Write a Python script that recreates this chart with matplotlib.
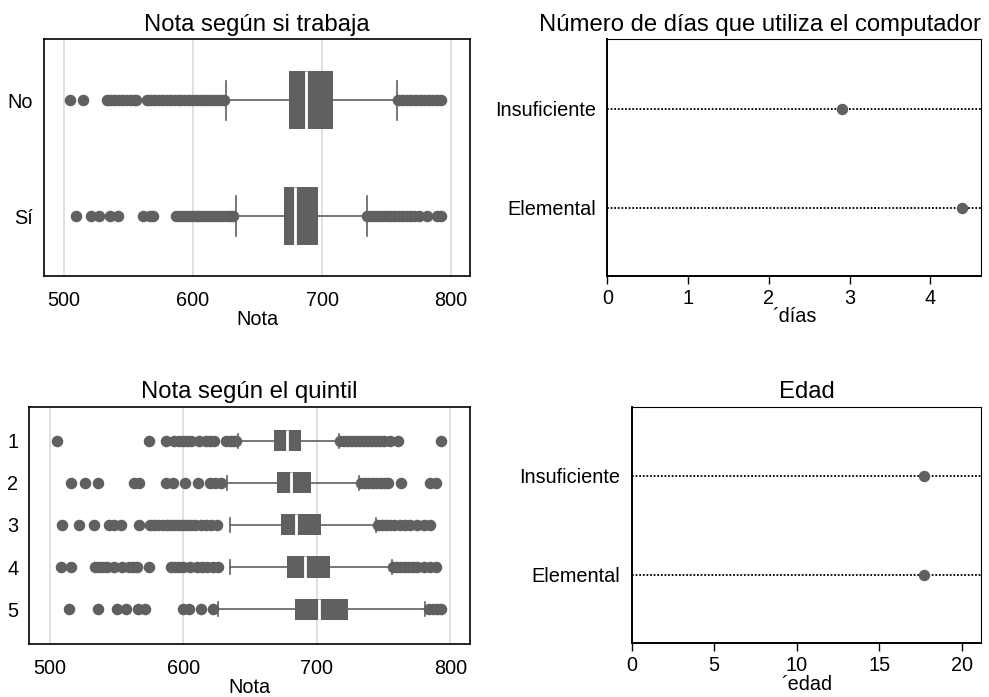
import matplotlib
matplotlib.use("Agg")
import matplotlib.pyplot as plt

plt.rcParams['font.family'] = ['Liberation Sans', 'DejaVu Sans']

GRAY = '#606060'
TICK_FS = 14.3
LABEL_FS = 14.3
TITLE_FS = 17.2

# ---------- Panel 1: Nota según si trabaja ----------
work_labels = ["No", "Sí"]
work_q1 = [674.2, 670.3]
work_med = [687.8, 679.1]
work_q3 = [708.3, 696.7]
work_whislo = [625.3, 633.1]
work_whishi = [757.9, 734.9]
work_fliers_no = [505, 515, 533, 536, 539, 542, 545, 548, 551, 554, 556,
                  564, 567, 570, 573, 576, 579, 582, 585, 588, 591, 594, 597,
                  600, 603, 606, 609, 612, 615, 618, 621, 624,
                  759, 762, 765, 768, 771, 774, 777, 780, 783, 786, 789, 792]
work_fliers_si = [509, 521, 527, 536, 542, 561, 567, 569,
                  587, 590, 593, 596, 599, 602, 605, 608, 611, 614, 617, 620,
                  623, 626, 629, 631,
                  735, 738, 741, 744, 747, 750, 753, 756, 759, 762, 765, 768,
                  771, 775, 781, 789, 792]

# ---------- Panel 2: Número de días que utiliza el computador ----------
level_labels = ["Insuficiente", "Elemental"]
dias_values = [2.90, 4.39]

# ---------- Panel 3: Nota según el quintil ----------
quint_labels = ["1", "2", "3", "4", "5"]
quint_q1 = [667.9, 670.4, 673.2, 677.7, 683.9]
quint_med = [677.4, 680.6, 684.4, 690.9, 701.3]
quint_q3 = [688.1, 695.6, 703.1, 709.8, 723.2]
quint_whislo = [641.0, 632.8, 635.0, 635.0, 625.6]
quint_whishi = [716.8, 731.5, 744.2, 755.9, 780.8]
quint_fliers_1 = [505, 574, 587, 593, 597, 600, 603, 606, 612, 617, 620, 623,
                  632, 635, 637, 639,
                  717, 720, 723, 726, 729, 732, 735, 738, 741, 744, 747, 750,
                  755, 761, 793]
quint_fliers_2 = [516, 526, 536, 563, 567, 587, 592, 601, 611, 620, 624, 628,
                  733, 736, 739, 742, 745, 748, 751, 753, 763, 785, 789]
quint_fliers_3 = [509, 522, 533, 544, 548, 553, 567, 575, 578, 581, 585, 588,
                  591, 594, 597, 600, 603, 606, 609, 613, 617, 621, 625,
                  746, 749, 752, 755, 758, 762, 766, 770, 775, 780, 785]
quint_fliers_4 = [508, 516, 534, 537, 540, 543, 548, 554, 559, 562, 565, 574,
                  591, 594, 597, 600, 605, 610, 614, 618, 622, 626,
                  757, 760, 763, 766, 769, 772, 775, 780, 785, 789]
quint_fliers_5 = [514, 536, 550, 557, 566, 571, 600, 604, 613, 622,
                  784, 787, 790, 793]

# ---------- Panel 4: Edad ----------
edad_values = [17.72, 17.72]

W, H = 989, 697
fig = plt.figure(figsize=(W / 100, H / 100), dpi=100)


def px_axes(l, r, t, b):
    return fig.add_axes([l / W, 1 - b / H, (r - l) / W, (b - t) / H])


def draw_box(ax, labels, q1, med, q3, lo, hi, fliers, positions):
    stats = []
    for i in range(len(labels)):
        stats.append(dict(q1=q1[i], med=med[i], q3=q3[i], whislo=lo[i],
                          whishi=hi[i], fliers=fliers[i], label=labels[i]))
    kw = dict(positions=positions, widths=0.5, capwidths=0.34,
              patch_artist=True, showfliers=True,
              boxprops=dict(facecolor=GRAY, edgecolor=GRAY, linewidth=0),
              medianprops=dict(color='white', linewidth=2.0),
              whiskerprops=dict(color=GRAY, linewidth=1.2),
              capprops=dict(color=GRAY, linewidth=1.2),
              flierprops=dict(marker='o', markerfacecolor=GRAY,
                              markeredgecolor=GRAY, markersize=7.3,
                              linestyle='none'))
    try:
        ax.bxp(stats, orientation='horizontal', **kw)
    except TypeError:
        ax.bxp(stats, vert=False, **kw)
    ax.set_xlim(484.5, 814.7)
    ax.set_xticks([500, 600, 700, 800])
    ax.grid(axis='x', color='#dcdcdc', linewidth=1.2)
    ax.set_axisbelow(True)
    ax.tick_params(axis='both', length=0, labelsize=TICK_FS)
    ax.tick_params(axis='x', pad=11)
    ax.tick_params(axis='y', pad=8)
    ax.set_xlabel('Nota', fontsize=LABEL_FS, labelpad=0)
    for s in ax.spines.values():
        s.set_linewidth(1.2)
        s.set_color('black')


def draw_dot(ax, labels, values, xmax, ticks, xlabel, title, title_loc):
    ypos = list(range(len(labels)))
    for y in ypos:
        ax.axhline(y, color='black', linestyle=(0, (1, 1.0)), linewidth=1.3,
                   zorder=1)
    ax.plot(values, ypos, 'o', color=GRAY, markersize=7.2, zorder=3,
            clip_on=False)
    ax.set_yticks(ypos)
    ax.set_yticklabels(labels)
    ax.set_ylim(len(labels) - 1 + 0.69, -0.70)
    ax.set_xlim(0, xmax)
    ax.set_xticks(ticks)
    ax.tick_params(axis='y', length=0, pad=8, labelsize=TICK_FS)
    ax.tick_params(axis='x', length=6, width=1, pad=3, labelsize=TICK_FS)
    ax.set_xlabel(xlabel, fontsize=LABEL_FS, labelpad=0)
    ax.set_title(title, fontsize=TITLE_FS, loc=title_loc)
    for k in ['left', 'bottom']:
        ax.spines[k].set_linewidth(1.4)
    for k in ['top', 'right']:
        ax.spines[k].set_linewidth(0.8)


# Top-left
ax1 = px_axes(44, 470, 39.3, 276)
draw_box(ax1, work_labels, work_q1, work_med, work_q3, work_whislo,
         work_whishi, [work_fliers_no, work_fliers_si], [0, 1])
ax1.set_ylim(1.517, -0.526)
ax1.set_title('Nota según si trabaja', fontsize=TITLE_FS)

# Top-right
ax2 = px_axes(607.3, 981.3, 39.3, 276)
draw_dot(ax2, level_labels, dias_values, 4.63, [0, 1, 2, 3, 4], '´días',
         'Número de días que utiliza el computador', 'right')

# Bottom-left
ax3 = px_axes(29.3, 470, 406.7, 644)
draw_box(ax3, quint_labels, quint_q1, quint_med, quint_q3, quint_whislo,
         quint_whishi, [quint_fliers_1, quint_fliers_2, quint_fliers_3,
                        quint_fliers_4, quint_fliers_5], [1, 2, 3, 4, 5])
ax3.set_ylim(5.83, 0.19)
ax3.set_title('Nota según el quintil', fontsize=TITLE_FS)

# Bottom-right
ax4 = px_axes(631.7, 981.3, 406.7, 643.3)
draw_dot(ax4, level_labels, edad_values, 21.19, [0, 5, 10, 15, 20], '´edad',
         'Edad', 'center')

fig.savefig('out.png', dpi=100, facecolor='white')
